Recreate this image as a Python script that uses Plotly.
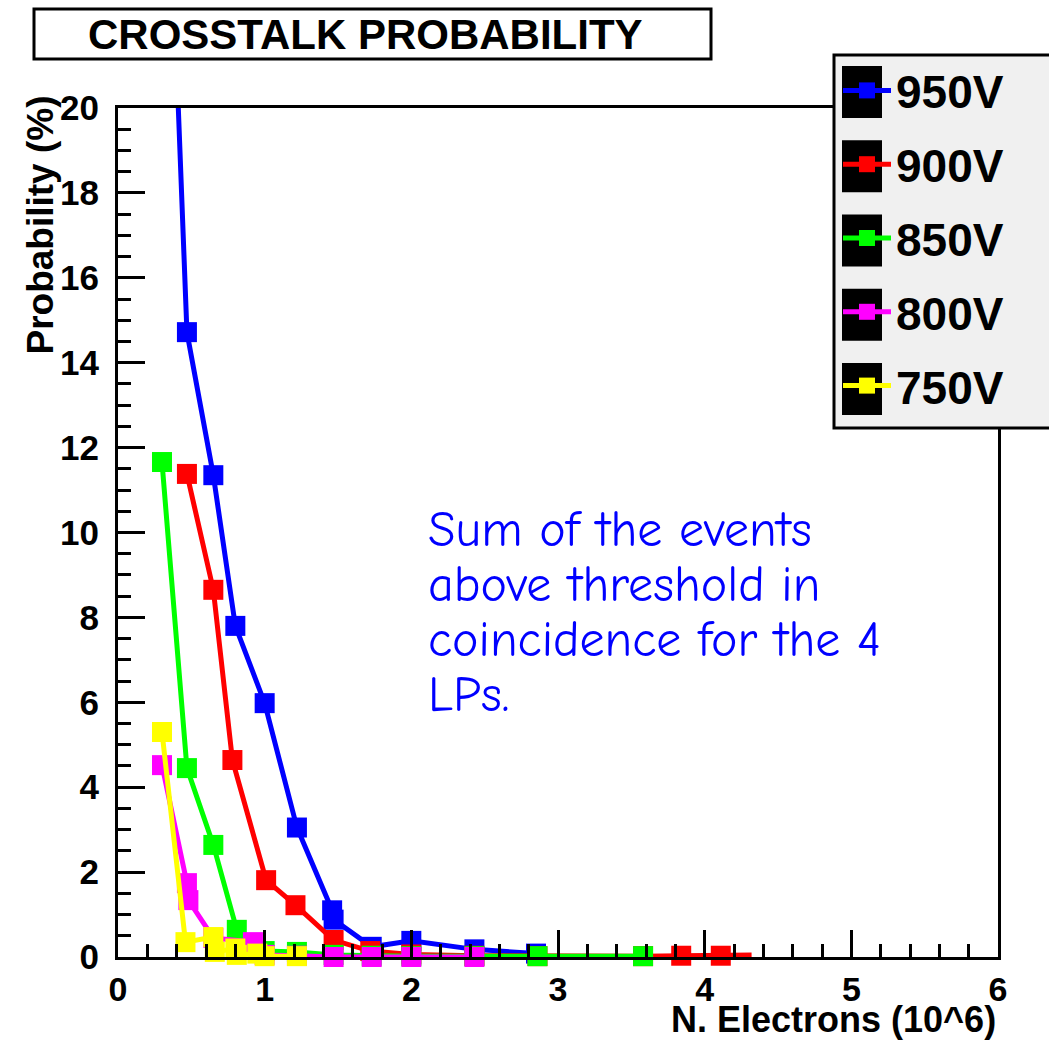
import plotly.graph_objects as go

# ---------------- data ----------------
series_names = ["950V", "900V", "850V", "800V", "750V"]
series_colors = ["#0000ff", "#ff0000", "#00ff00", "#ff00ff", "#ffff00"]

x_950 = [0.40, 0.47, 0.65, 0.80, 1.00, 1.22, 1.46, 1.47, 1.73, 2.00, 2.43, 2.85]
y_950 = [21.0, 14.72, 11.35, 7.80, 5.98, 3.05, 1.10, 0.88, 0.24, 0.38, 0.18, 0.08]

x_900 = [0.47, 0.65, 0.78, 1.01, 1.21, 1.47, 1.72, 2.00, 2.43, 2.86, 3.58, 3.84, 4.11, 4.32]
y_900 = [11.38, 8.65, 4.64, 1.81, 1.22, 0.40, 0.14, 0.06, 0.03, 0.02, 0.02, 0.03, 0.03, 0.05]

x_850 = [0.30, 0.47, 0.65, 0.81, 1.00, 1.22, 1.47, 1.73, 2.00, 2.43, 2.86, 3.58]
y_850 = [11.66, 4.45, 2.64, 0.64, 0.14, 0.12, 0.05, 0.03, 0.02, 0.02, 0.02, 0.02]

x_800 = [0.30, 0.47, 0.48, 0.65, 0.92, 1.00, 1.22, 1.47, 1.73, 2.00, 2.43]
y_800 = [4.52, 1.74, 1.34, 0.45, 0.35, 0.05, 0.03, 0.0, 0.0, 0.0, 0.0]

x_750 = [0.30, 0.46, 0.65, 0.66, 0.80, 0.81, 0.95, 1.00, 1.22]
y_750 = [5.30, 0.35, 0.47, 0.12, 0.20, 0.05, 0.08, 0.02, 0.02]

xs = [x_950, x_900, x_850, x_800, x_750]
ys = [y_950, y_900, y_850, y_800, y_750]

x_tick_vals = [0, 1, 2, 3, 4, 5, 6]
y_tick_vals = [0, 2, 4, 6, 8, 10, 12, 14, 16, 18, 20]

title_text = "CROSSTALK PROBABILITY"
x_title = "N. Electrons (10^6)"
y_title = "Probability (%)"
note_lines = ["Sum of the events", "above threshold in", "coincidence for the 4", "LPs."]

# ---------------- figure ----------------
W, H = 1049, 1043
L, R, T, B = 118, 51, 108, 86
PW, PH = W - L - R, H - T - B


def px_x(p):
    return (p - L) / PW


def px_y(p):
    return (H - B - p) / PH


fig = go.Figure()
for name, col, x, y in zip(series_names, series_colors, xs, ys):
    sizes = [20] * len(x)
    if name == "950V":
        sizes[0] = 0
    if name == "900V":
        sizes[-1] = 0
    fig.add_trace(go.Scatter(
        x=x, y=y, name=name, mode="lines+markers",
        line=dict(color=col, width=5),
        marker=dict(symbol="square", size=sizes, color=col, opacity=1, line=dict(width=0)),
        cliponaxis=False, legendgroup=name,
    ))

bold = dict(family="Liberation Sans, Arial, sans-serif", color="black", weight="bold")

fig.update_layout(
    width=W, height=H, autosize=False,
    margin=dict(l=L, r=R, t=T, b=B),
    paper_bgcolor="white", plot_bgcolor="white",
    showlegend=True,
    legend=dict(
        x=px_x(838), y=px_y(54), xanchor="left", yanchor="top",
        bgcolor="rgba(0,0,0,0)", borderwidth=0,
        font=dict(size=46, **bold),
        traceorder="grouped", tracegroupgap=11,
        itemwidth=48, itemsizing="trace",
    ),
    xaxis=dict(
        range=[0, 6], tickvals=x_tick_vals, ticks="inside", ticklen=27, tickwidth=3,
        tickcolor="black", showline=True, linewidth=3, linecolor="black", mirror=True,
        showgrid=False, zeroline=False, tickfont=dict(size=34, **bold),
        ticklabelstandoff=0,
        minor=dict(dtick=0.2, ticks="inside", ticklen=13, tickwidth=3, tickcolor="black", showgrid=False),
    ),
    yaxis=dict(
        range=[0, 20], tickvals=y_tick_vals, ticks="inside", ticklen=27, tickwidth=3,
        tickcolor="black", showline=True, linewidth=3, linecolor="black", mirror=True,
        showgrid=False, zeroline=False, tickfont=dict(size=35, **bold),
        ticklabelstandoff=9,
        minor=dict(dtick=0.5, ticks="inside", ticklen=13, tickwidth=3, tickcolor="black", showgrid=False),
    ),
)

shapes = []
# title box
shapes.append(dict(type="rect", xref="paper", yref="paper", layer="above",
                   x0=px_x(34), x1=px_x(711), y0=px_y(59), y1=px_y(9),
                   fillcolor="white", line=dict(color="black", width=3)))
# legend box
shapes.append(dict(type="rect", xref="paper", yref="paper", layer="above",
                   x0=px_x(834), x1=px_x(1060), y0=px_y(428), y1=px_y(55),
                   fillcolor="#f0f0f0", line=dict(color="black", width=3)))
# black backgrounds behind legend symbols
for i in range(len(series_names)):
    cy = 92 + i * 74.25
    shapes.append(dict(type="rect", xref="paper", yref="paper", layer="above",
                       x0=px_x(842), x1=px_x(882), y0=px_y(cy + 26), y1=px_y(cy - 26),
                       fillcolor="black", line=dict(width=0)))
fig.update_layout(shapes=shapes)

annotations = [
    dict(text=title_text, xref="paper", yref="paper", x=px_x(365), y=px_y(34),
         xanchor="center", yanchor="middle", showarrow=False,
         font=dict(size=42, **bold)),
    dict(text=y_title, xref="paper", yref="paper", x=px_x(40), y=px_y(94),
         xanchor="center", yanchor="top", showarrow=False, textangle=-90,
         font=dict(size=37, **bold)),
    dict(text=x_title, xref="paper", yref="paper", x=1.0, y=px_y(1019),
         xanchor="right", yanchor="middle", showarrow=False,
         font=dict(size=36, **bold)),
]
for i, line in enumerate(note_lines):
    annotations.append(dict(
        text=line, xref="paper", yref="paper", x=px_x(426), y=px_y(530 + i * 55),
        xanchor="left", yanchor="middle", showarrow=False, align="left",
        font=dict(size=50, family="Comic Sans MS, Comic Neue, Noto Sans, sans-serif", color="#0000ff")))
fig.update_layout(annotations=annotations)

fig.write_html("out.html")
